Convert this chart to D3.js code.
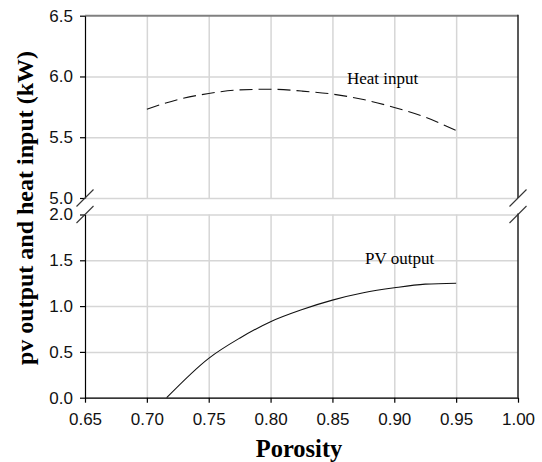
<!DOCTYPE html>
<html>
<head>
<meta charset="utf-8">
<script src="https://cdn.jsdelivr.net/npm/d3@7"></script>
<style>
  body { margin: 0; background: #fff; }
  svg { display: block; }
  .axis .tick text { font-family: "Liberation Sans", Arial, sans-serif; font-size: 17px; fill: #111; }
  .grid line { stroke: #d6d6d6; stroke-width: 1.5; }
  .grid .domain { display: none; }
  .axis line, .axis path { stroke: #000; stroke-width: 1.2; }
  .serif { font-family: "Liberation Serif", "Times New Roman", serif; fill: #000; }
</style>
</head>
<body>
<script>
(function() {
    // data
    var xTicks = [0.65, 0.70, 0.75, 0.80, 0.85, 0.90, 0.95, 1.00];
    var topTicks = [5.0, 5.5, 6.0, 6.5];
    var botTicks = [0.0, 0.5, 1.0, 1.5, 2.0];

    var heatPorosity = [0.70, 0.725, 0.75, 0.775, 0.80, 0.825, 0.85, 0.875, 0.90, 0.925, 0.95];
    var heatInput = [5.73, 5.81, 5.86, 5.89, 5.895, 5.88, 5.855, 5.81, 5.745, 5.665, 5.555];

    var pvPorosity = [0.716, 0.75, 0.775, 0.80, 0.825, 0.85, 0.875, 0.90, 0.925, 0.95];
    var pvOutput = [0.0, 0.43, 0.65, 0.83, 0.96, 1.065, 1.145, 1.20, 1.24, 1.25];

    var W = 542, H = 462;
    var left = 85, right = 518;
    var topY0 = 15.7, topY1 = 198;
    var botY0 = 214.5, botY1 = 397.7;

    var svg = d3.select("body").append("svg")
        .attr("width", W)
        .attr("height", H);

    var x = d3.scaleLinear().domain([0.65, 1.0]).range([left, right]);
    var yTop = d3.scaleLinear().domain([5.0, 6.5]).range([topY1, topY0]);
    var yBot = d3.scaleLinear().domain([0.0, 2.0]).range([botY1, botY0]);

    // gridlines, horizontal
    svg.append("g").attr("class", "grid")
        .attr("transform", "translate(" + left + ",0)")
        .call(d3.axisLeft(yTop).tickValues([5.0, 5.5, 6.0]).tickSize(-(right - left)).tickFormat(""));
    svg.append("g").attr("class", "grid")
        .attr("transform", "translate(" + left + ",0)")
        .call(d3.axisLeft(yBot).tickValues(botTicks).tickSize(-(right - left)).tickFormat(""));

    // gridlines, vertical (each panel)
    var inner = xTicks.slice(1, -1);
    svg.append("g").attr("class", "grid")
        .attr("transform", "translate(0," + topY1 + ")")
        .call(d3.axisBottom(x).tickValues(inner).tickSize(-(topY1 - topY0)).tickFormat(""));
    svg.append("g").attr("class", "grid")
        .attr("transform", "translate(0," + botY1 + ")")
        .call(d3.axisBottom(x).tickValues(inner).tickSize(-(botY1 - botY0)).tickFormat(""));

    // top border
    svg.append("line")
        .attr("x1", left).attr("x2", right)
        .attr("y1", topY0).attr("y2", topY0)
        .attr("stroke", "#808080").attr("stroke-width", 2);

    // right border, two pieces
    [[topY0, topY1], [botY0, botY1]].forEach(function(p) {
        svg.append("line")
            .attr("x1", right).attr("x2", right)
            .attr("y1", p[0] - 1).attr("y2", p[1])
            .attr("stroke", "#222").attr("stroke-width", 1.5);
    });

    // y axes
    var fmt = d3.format(".1f");
    svg.append("g").attr("class", "axis")
        .attr("transform", "translate(" + left + ",0)")
        .call(d3.axisLeft(yTop).tickValues(topTicks).tickSize(5).tickSizeOuter(0).tickPadding(7).tickFormat(fmt));
    svg.append("g").attr("class", "axis")
        .attr("transform", "translate(" + left + ",0)")
        .call(d3.axisLeft(yBot).tickValues(botTicks).tickSize(5).tickSizeOuter(0).tickPadding(7).tickFormat(fmt));

    // x axis
    svg.append("g").attr("class", "axis")
        .attr("transform", "translate(0," + botY1 + ")")
        .call(d3.axisBottom(x).tickValues(xTicks).tickSize(5).tickSizeOuter(0).tickPadding(10).tickFormat(d3.format(".2f")));

    // break marks
    [[left, topY1], [left, botY0], [right, topY1], [right, botY0]].forEach(function(p) {
        svg.append("line")
            .attr("x1", p[0] - 8.5).attr("y1", p[1] + 8.5)
            .attr("x2", p[0] + 8.5).attr("y2", p[1] - 8.5)
            .attr("stroke", "#333").attr("stroke-width", 1.1);
    });

    // heat input, dashed
    var heatLine = d3.line()
        .x(function(d, i) { return x(heatPorosity[i]); })
        .y(function(d) { return yTop(d); })
        .curve(d3.curveMonotoneX);
    svg.append("path")
        .datum(heatInput)
        .attr("d", heatLine)
        .attr("fill", "none")
        .attr("stroke", "#111")
        .attr("stroke-width", 1.1)
        .attr("stroke-dasharray", "13,6");

    // pv output, solid
    var pvLine = d3.line()
        .x(function(d, i) { return x(pvPorosity[i]); })
        .y(function(d) { return yBot(d); })
        .curve(d3.curveMonotoneX);
    svg.append("path")
        .datum(pvOutput)
        .attr("d", pvLine)
        .attr("fill", "none")
        .attr("stroke", "#111")
        .attr("stroke-width", 1.1);

    // labels
    svg.append("text").attr("class", "serif")
        .attr("x", 347).attr("y", 84)
        .style("font-size", "17px")
        .text("Heat input");
    svg.append("text").attr("class", "serif")
        .attr("x", 365).attr("y", 264)
        .style("font-size", "17px")
        .text("PV output");

    svg.append("text").attr("class", "serif")
        .attr("x", 299).attr("y", 457)
        .attr("text-anchor", "middle")
        .style("font-size", "24.5px").style("font-weight", "bold")
        .text("Porosity");

    svg.append("text").attr("class", "serif")
        .attr("transform", "translate(33,208) rotate(-90)")
        .attr("text-anchor", "middle")
        .style("font-size", "24px").style("font-weight", "bold")
        .text("pv output and heat input (kW)");
})();
</script>
</body>
</html>
